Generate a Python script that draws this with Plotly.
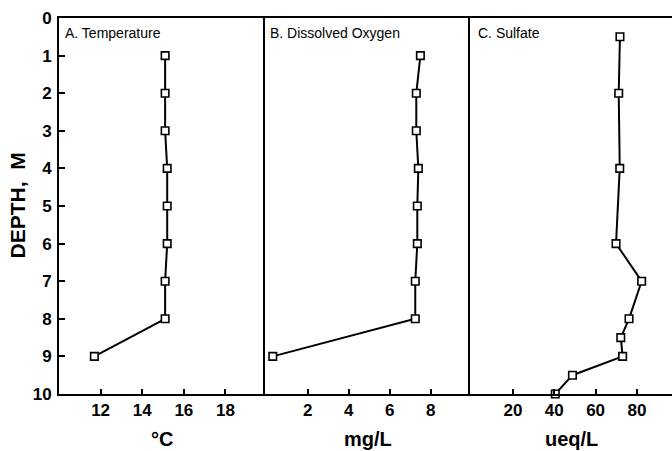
import plotly.graph_objects as go

# Depth profiles (m)
depth = [1, 2, 3, 4, 5, 6, 7, 8, 9]
temperature_c = [15.1, 15.1, 15.1, 15.2, 15.2, 15.2, 15.1, 15.1, 11.7]
oxygen_mgl = [7.5, 7.3, 7.3, 7.4, 7.35, 7.35, 7.25, 7.25, 0.3]

sulfate_depth = [0.5, 2, 4, 6, 7, 8, 8.5, 9, 9.5, 10]
sulfate_ueql = [71.8, 71.2, 71.7, 69.9, 82.3, 76.2, 72.2, 73.1, 48.8, 40.5]

panel_titles = ["A. Temperature", "B. Dissolved Oxygen", "C. Sulfate"]
unit_titles = ["°C", "mg/L", "ueq/L"]
x_ticks = [[12, 14, 16, 18], [2, 4, 6, 8], [20, 40, 60, 80]]
x_ranges = [[10, 19.9], [-0.08, 9.92], [-0.8, 97]]
depth_ticks = list(range(0, 11))

FONT = "Liberation Sans, Arial, Helvetica, sans-serif"
W, H = 672, 451
ML, MR, MT, MB = 59, 0, 18, 57
pw = W - ML - MR
domains = [[0, 206 / pw], [206 / pw, 411 / pw], [411 / pw, 1]]

fig = go.Figure()

series = [(temperature_c, depth), (oxygen_mgl, depth), (sulfate_ueql, sulfate_depth)]
for i, (xs, ys) in enumerate(series):
    sfx = "" if i == 0 else str(i + 1)
    fig.add_trace(go.Scatter(
        x=xs, y=ys, mode="lines+markers",
        xaxis="x" + sfx, yaxis="y" + sfx,
        line=dict(color="black", width=2),
        marker=dict(symbol="square", size=7.5, color="white",
                    line=dict(color="black", width=1.6)),
        showlegend=False, cliponaxis=False,
    ))

layout = dict(
    width=W, height=H,
    margin=dict(l=ML, r=MR, t=MT, b=MB, pad=0),
    paper_bgcolor="white", plot_bgcolor="white",
    font=dict(family=FONT, color="black"),
    showlegend=False,
)

for i in range(3):
    sfx = "" if i == 0 else str(i + 1)
    layout["xaxis" + sfx] = dict(
        domain=domains[i], range=x_ranges[i], anchor="y" + sfx,
        showgrid=False, zeroline=False,
        showline=True, linecolor="black", linewidth=2, mirror=True,
        ticks="inside", ticklen=5, tickwidth=1.5, tickcolor="black",
        tickvals=x_ticks[i], ticktext=[str(v) for v in x_ticks[i]],
        tickfont=dict(family=FONT, size=17, weight="bold", color="black"),
        ticklabelstandoff=0,
    )
    layout["yaxis" + sfx] = dict(
        domain=[0, 1], range=[10, 0], anchor="x" + sfx,
        showgrid=False, zeroline=False,
        showline=True, linecolor="black", linewidth=2, mirror=False,
        ticks="inside" if i == 0 else "", ticklen=6, tickwidth=1.5, tickcolor="black",
        tickvals=depth_ticks if i == 0 else [],
        ticktext=[str(v) for v in depth_ticks] if i == 0 else [],
        showticklabels=(i == 0),
        tickfont=dict(family=FONT, size=17, weight="bold", color="black"),
        ticklabelstandoff=2,
    )

annotations = []
title_x_px = [63, 268, 476]
for i in range(3):
    annotations.append(dict(
        text=panel_titles[i], xref="paper", yref="paper",
        x=(title_x_px[i] - ML) / pw, y=1, xanchor="left", yanchor="middle",
        yshift=-(33 - MT), showarrow=False,
        font=dict(family=FONT, size=14, color="black"),
    ))
    dmid = (domains[i][0] + domains[i][1]) / 2
    annotations.append(dict(
        text=unit_titles[i], xref="paper", yref="paper",
        x=dmid, y=0, xanchor="center", yanchor="middle",
        yshift=-(439 - (H - MB)), showarrow=False,
        font=dict(family=FONT, size=20, weight="bold", color="black"),
    ))

annotations.append(dict(
    text="DEPTH,  M", xref="paper", yref="paper",
    x=0, y=0.5, xanchor="center", yanchor="middle",
    xshift=-(ML - 16.5), textangle=-90, showarrow=False,
    font=dict(family=FONT, size=21, weight="bold", color="black"),
))
layout["annotations"] = annotations

fig.update_layout(**layout)
fig.write_html("out.html")
